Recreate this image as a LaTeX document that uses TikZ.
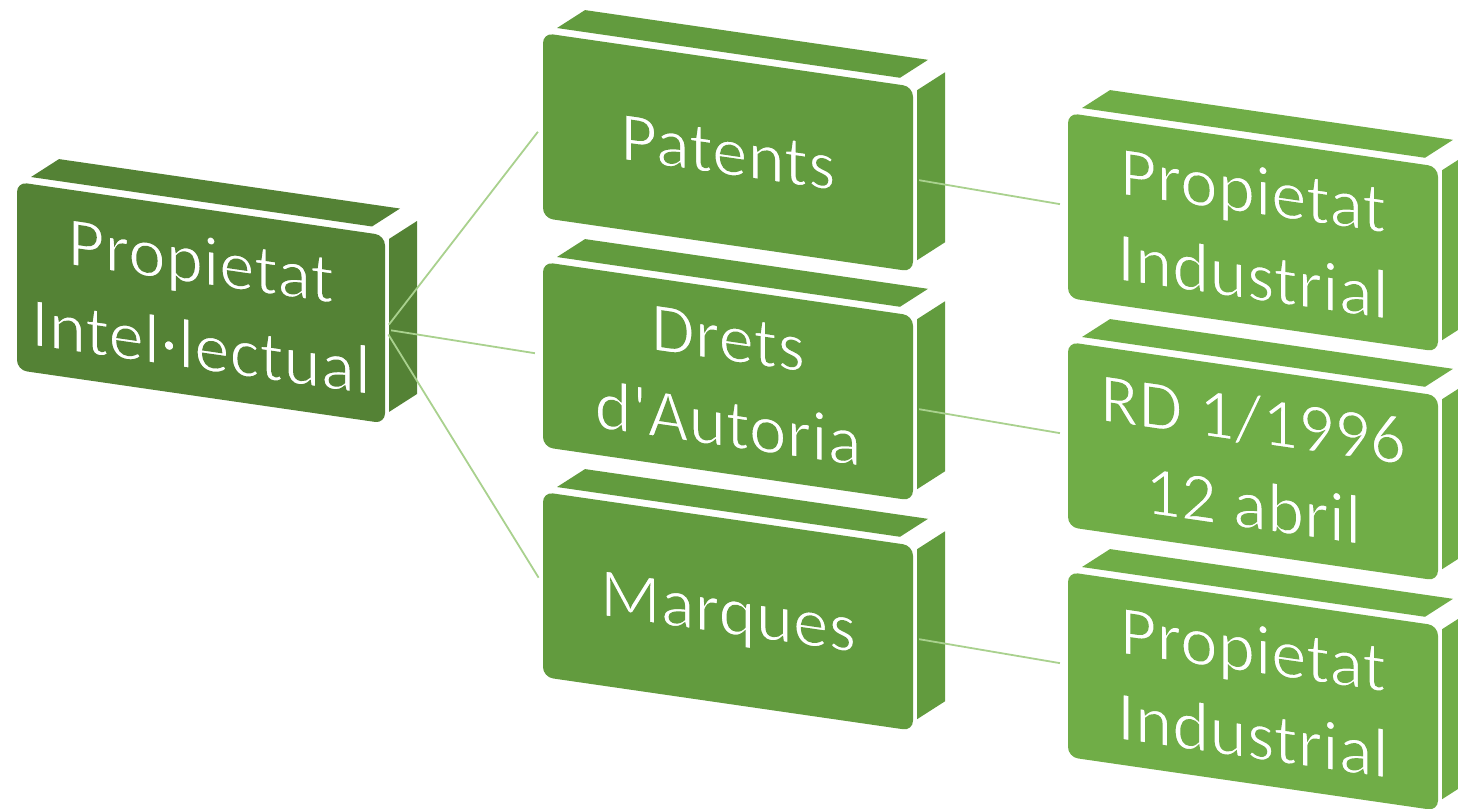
\documentclass[tikz,border=0pt]{standalone}
\usepackage{fontspec}
\setmainfont{Carlito}
\definecolor{gdark}{HTML}{548235}
\definecolor{gmid}{HTML}{629B3E}
\definecolor{glight}{HTML}{70AD47}
\definecolor{gline}{HTML}{A9D18E}
\tikzset{
  front/.style={rectangle, rounded corners=10pt, inner sep=0pt, transform shape,
    text=white, align=center, font=\fontsize{71}{86}\selectfont, text depth=0pt},
  conn/.style={draw=gline, line width=1.8pt, shorten <=6pt, shorten >=8pt}
}
% thin the glyphs by stroking their outlines in the box colour
\newcommand\thintext[2]{\special{pdf:literal direct 2 Tr 1.6 w #1 RG}#2\special{pdf:literal direct 0 Tr}}
% name, X, Y, colour, W, H, text, rgb of colour
\newcommand\gbox[8]{%
  \begin{scope}[shift={(#2,#3)}, cm={1,-0.145,0,1,(0,0)}]
    \fill[#4] (14,-7) -- (42,-29) -- ({#5+15},-29) -- ({#5-13},-7) -- cycle;
    \fill[#4] ({#5+4},3) -- ({#5+32},-19) -- ({#5+32},{#6-34}) -- ({#5+4},{#6-12}) -- cycle;
    \node[front, fill=#4, minimum width=#5pt, minimum height=#6pt] (#1) at ({#5/2},{#6/2}) {\thintext{#8}{#7}};
  \end{scope}}
\begin{document}
\begin{tikzpicture}[x=1pt, y=-1pt]
  \useasboundingbox (0,0) rectangle (1458,808);
  \gbox{root}{17}{182}{gdark}{368}{188}{Propietat\\Intel·lectual}{0.329 0.510 0.208}
  \gbox{pat}{543}{33}{gmid}{370}{185}{Patents}{0.384 0.608 0.243}
  \gbox{dret}{543}{262}{gmid}{370}{185}{Drets\\d\textquotesingle Autoria}{0.384 0.608 0.243}
  \gbox{marq}{543}{492}{gmid}{370}{185}{Marques}{0.384 0.608 0.243}
  \gbox{pia}{1068}{113}{glight}{370}{185}{Propietat\\Industrial}{0.439 0.678 0.278}
  \gbox{rd}{1068}{342}{glight}{370}{185}{RD 1/1996\\12 abril}{0.439 0.678 0.278}
  \gbox{pib}{1068}{572}{glight}{370}{185}{Propietat\\Industrial}{0.439 0.678 0.278}
  \draw[conn] (root.east) -- (pat.west);
  \draw[conn] (root.east) -- (dret.west);
  \draw[conn] (root.east) -- (marq.west);
  \draw[conn] (pat.east) -- (pia.west);
  \draw[conn] (dret.east) -- (rd.west);
  \draw[conn] (marq.east) -- (pib.west);
\end{tikzpicture}
\end{document}
